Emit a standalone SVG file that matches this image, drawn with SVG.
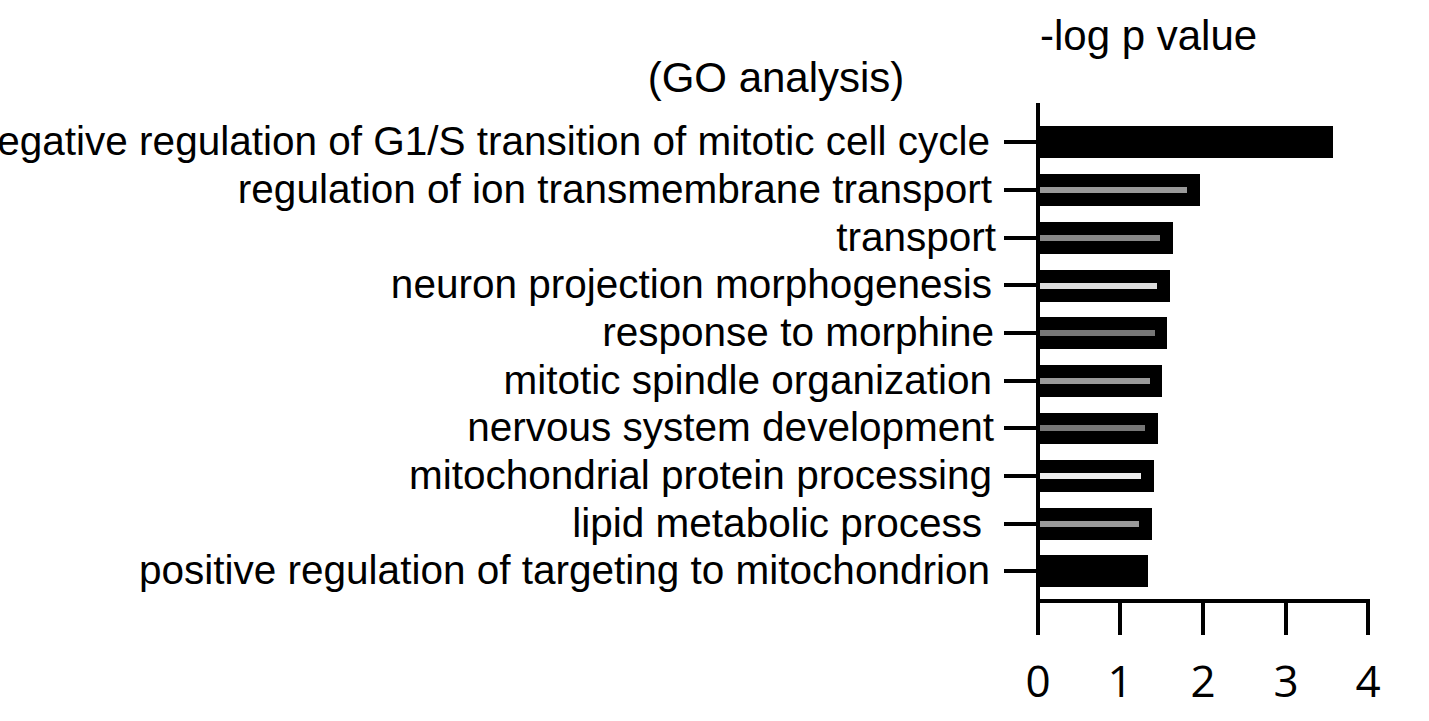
<svg xmlns="http://www.w3.org/2000/svg" width="1429" height="721" viewBox="0 0 1429 721">
<style>
.l{font-family:"Liberation Sans",Arial,sans-serif;font-size:40.5px;fill:#000;text-anchor:end}
.t{font-family:"Liberation Sans",Arial,sans-serif;font-size:42px;fill:#000}
.n{font-family:"Open Sans","Liberation Sans",sans-serif;font-size:44px;fill:#000;text-anchor:middle}
.ax{stroke:#000;stroke-width:4;fill:none}
</style>
<rect width="1429" height="721" fill="#fff"/>
<text class="t" x="1040" y="50">-log p value</text>
<text class="t" x="776" y="92" text-anchor="middle">(GO analysis)</text>
<g id="axes" class="ax">
<path d="M1038 103V635M1036 601H1370M1120 601V635M1203 601V635M1286 601V635M1368 601V635"/>
<path d="M1004 142H1038M1004 190H1038M1004 238H1038M1004 285H1038M1004 333H1038M1004 381H1038M1004 428H1038M1004 476H1038M1004 524H1038M1004 571H1038"/>
</g>
<g id="ticklabels">
<text class="n" x="1038" y="697">0</text><text class="n" x="1120" y="697">1</text><text class="n" x="1203" y="697">2</text><text class="n" x="1286" y="697">3</text><text class="n" x="1368" y="697">4</text>
</g>
<g id="bars">
<rect x="1038" y="126" width="295" height="32"/>
<rect x="1038" y="174" width="162" height="32"/><rect x="1040" y="187" width="147" height="6" fill="#999"/>
<rect x="1038" y="222" width="135" height="32"/><rect x="1040" y="235" width="120" height="6" fill="#888"/>
<rect x="1038" y="270" width="132" height="32"/><rect x="1040" y="283" width="117" height="6" fill="#ddd"/>
<rect x="1038" y="317" width="129" height="32"/><rect x="1040" y="330" width="115" height="6" fill="#777"/>
<rect x="1038" y="365" width="124" height="32"/><rect x="1040" y="378" width="110" height="6" fill="#999"/>
<rect x="1038" y="413" width="120" height="31"/><rect x="1040" y="425" width="105" height="6" fill="#777"/>
<rect x="1038" y="460" width="116" height="32"/><rect x="1040" y="473" width="101" height="6" fill="#eee"/>
<rect x="1038" y="508" width="114" height="32"/><rect x="1040" y="521" width="99" height="6" fill="#999"/>
<rect x="1038" y="555" width="110" height="32"/>
</g>
<g id="labels">
<text class="l" x="990" y="155">negative regulation of G1/S transition of mitotic cell cycle</text>
<text class="l" x="992" y="203">regulation of ion transmembrane transport</text>
<text class="l" x="996" y="251">transport</text>
<text class="l" x="992" y="298">neuron projection morphogenesis</text>
<text class="l" x="994" y="346">response to morphine</text>
<text class="l" x="992" y="394">mitotic spindle organization</text>
<text class="l" x="994" y="441">nervous system development</text>
<text class="l" x="992" y="489">mitochondrial protein processing</text>
<text class="l" x="982" y="537">lipid metabolic process</text>
<text class="l" x="990" y="584">positive regulation of targeting to mitochondrion</text>
</g>
</svg>
